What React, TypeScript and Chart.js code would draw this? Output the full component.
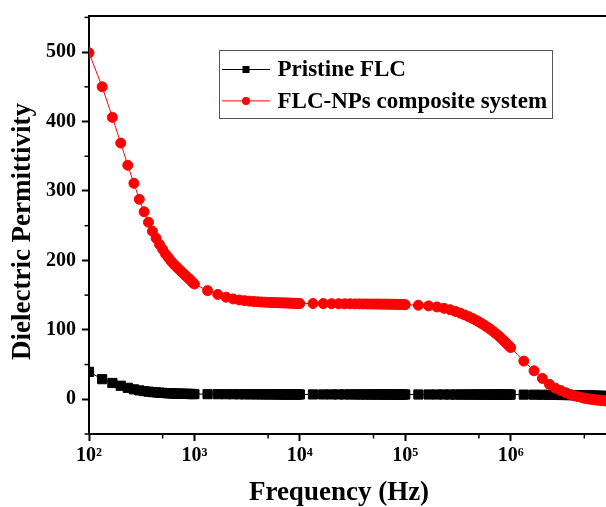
import React, { useEffect, useRef } from "react";
import { Chart, registerables } from "chart.js";

Chart.register(...registerables);

// Frequencies (Hz): linear steps of 1/3 of each decade
const frequencies = [
  100, 133.3, 166.7, 200, 233.3, 266.7, 300, 333.3, 366.7, 400, 433.3, 466.7, 500, 533.3, 566.7, 600, 633.3, 666.7, 700, 733.3, 766.7, 800, 833.3, 866.7, 900, 933.3, 966.7,
  1000, 1333, 1667, 2000, 2333, 2667, 3000, 3333, 3667, 4000, 4333, 4667, 5000, 5333, 5667, 6000, 6333, 6667, 7000, 7333, 7667, 8000, 8333, 8667, 9000, 9333, 9667,
  10000, 13330, 16670, 20000, 23330, 26670, 30000, 33330, 36670, 40000, 43330, 46670, 50000, 53330, 56670, 60000, 63330, 66670, 70000, 73330, 76670, 80000, 83330, 86670, 90000, 93330, 96670,
  100000, 133300, 166700, 200000, 233300, 266700, 300000, 333300, 366700, 400000, 433300, 466700, 500000, 533300, 566700, 600000, 633300, 666700, 700000, 733300, 766700, 800000, 833300, 866700, 900000, 933300, 966700,
  1000000, 1333000, 1667000, 2000000, 2333000, 2667000, 3000000, 3333000, 3667000, 4000000, 4333000, 4667000, 5000000, 5333000, 5667000, 6000000, 6333000, 6667000, 7000000, 7333000, 7667000, 8000000, 8333000, 8667000, 9000000, 9333000, 9667000,
  10000000,
];

const pristineFLC = [
  39.5, 29, 23.5, 19.5, 16.5, 14.3, 12.8, 11.8, 11, 10.4, 9.9, 9.5, 9.2, 8.9, 8.7, 8.5, 8.3, 8.2, 8.1, 8, 7.9, 7.8, 7.75, 7.7, 7.65, 7.6, 7.55,
  7.5, 7.4, 7.35, 7.3, 7.3, 7.25, 7.2, 7.2, 7.2, 7.15, 7.15, 7.1, 7.1, 7.1, 7.1, 7.05, 7.05, 7.05, 7.05, 7, 7, 7, 7, 7, 7, 7, 7,
  7, 7, 7, 7, 7, 7, 7, 7, 6.95, 6.95, 6.95, 6.95, 6.95, 6.95, 6.95, 6.95, 6.9, 6.9, 6.9, 6.9, 6.9, 6.9, 6.9, 6.9, 6.9, 6.9, 6.9,
  6.9, 6.9, 6.9, 6.9, 6.9, 6.85, 6.85, 6.85, 6.85, 6.85, 6.85, 6.85, 6.85, 6.8, 6.8, 6.8, 6.8, 6.8, 6.8, 6.8, 6.8, 6.8, 6.8, 6.8, 6.8, 6.8, 6.8,
  6.8, 6.7, 6.6, 6.5, 6.4, 6.3, 6.2, 6.1, 6, 5.9, 5.8, 5.7, 5.6, 5.5, 5.4, 5.3, 5.2, 5.1, 5, 4.9, 4.8, 4.7, 4.6, 4.5, 4.4, 4.3, 4.2,
  4,
];

const compositeFLC = [
  499, 450, 406, 369, 337, 311, 288, 270, 255, 242, 232, 223, 216, 209, 204, 199, 195, 191.5, 188.5, 185.5, 182.5, 180, 177.5, 175, 173, 170.5, 168,
  166, 156.5, 151, 147, 144.5, 143, 142, 141.3, 140.8, 140.4, 140.1, 139.8, 139.6, 139.4, 139.2, 139.1, 139, 138.9, 138.8, 138.7, 138.6, 138.5, 138.4, 138.3, 138.2, 138.1, 138,
  138, 137.9, 137.8, 137.7, 137.6, 137.5, 137.5, 137.4, 137.4, 137.3, 137.3, 137.2, 137.2, 137.1, 137.1, 137, 137, 137, 136.9, 136.9, 136.8, 136.8, 136.7, 136.7, 136.6, 136.6, 136.5,
  136.3, 135.5, 134.5, 133, 131, 129, 126.5, 124, 121.5, 119, 116.5, 114, 111.5, 109, 106.5, 104, 101.5, 99, 96.5, 94, 91.5, 89, 86.5, 84, 81.5, 79, 77,
  74.5, 55, 41, 30, 21.5, 16, 12.5, 9.5, 7, 5, 3.8, 2.8, 1.5, 0.8, 0.2, -0.3, -0.8, -1.2, -1.5, -1.8, -2.1, -2.4, -2.6, -2.8, -3, -3.1, -3.2,
  -3.3,
];

const seriesNames = ["Pristine FLC", "FLC-NPs composite system"];
const xTickValues = [1e2, 1e3, 1e4, 1e5, 1e6];
const xTickLabels = ["10\u00B2", "10\u00B3", "10\u2074", "10\u2075", "10\u2076"];
const xMinorTicks = [5e2, 5e3, 5e4, 5e5, 5e6];
const yTickValues = [0, 100, 200, 300, 400, 500];
const yMinorTicks = [-50, 50, 150, 250, 350, 450, 550];
const xTitle = "Frequency (Hz)";
const yTitle = "Dielectric Permittivity";

const FONT = '"Liberation Serif", "Times New Roman", serif';

const decorPlugin = {
  id: "decor",
  afterDraw(chart: any) {
    const { ctx, chartArea: ca, scales } = chart;
    const xs = scales.x;
    const ys = scales.y;
    ctx.save();
    ctx.strokeStyle = "#000";
    // top frame line
    ctx.lineWidth = 2;
    ctx.beginPath();
    ctx.moveTo(ca.left - 1, ca.top);
    ctx.lineTo(ca.right, ca.top);
    ctx.stroke();
    // minor ticks
    ctx.lineWidth = 1.5;
    for (const v of xMinorTicks) {
      const px = xs.getPixelForValue(v);
      if (px < ca.left || px > ca.right) continue;
      ctx.beginPath();
      ctx.moveTo(px, ca.bottom);
      ctx.lineTo(px, ca.bottom + 4.5);
      ctx.stroke();
    }
    for (const v of yMinorTicks) {
      const py = ys.getPixelForValue(v);
      if (py < ca.top - 1 || py > ca.bottom + 1) continue;
      ctx.beginPath();
      ctx.moveTo(ca.left, py);
      ctx.lineTo(ca.left - 4.5, py);
      ctx.stroke();
    }
    // axis titles
    ctx.fillStyle = "#000";
    ctx.font = `bold 27px ${FONT}`;
    ctx.textAlign = "center";
    ctx.textBaseline = "alphabetic";
    ctx.fillText(xTitle, ca.left + 250, chart.height - 7);
    ctx.save();
    ctx.translate(29.5, (ca.top + ca.bottom) / 2 + 6.5);
    ctx.rotate(-Math.PI / 2);
    ctx.fillText(yTitle, 0, 0);
    ctx.restore();

    // legend
    const bx = ca.left + 130;
    const by = ca.top + 33.5;
    ctx.font = `bold 23px ${FONT}`;
    const textX = bx + 58.5;
    const tw = Math.max(...seriesNames.map((n) => ctx.measureText(n).width));
    const bw = textX - bx + tw + 5;
    const bh = 68;
    ctx.lineWidth = 1;
    ctx.strokeStyle = "#555";
    ctx.strokeRect(Math.round(bx) + 0.5, Math.round(by) + 0.5, Math.round(bw), bh);
    const rows = [by + 20, by + 51.4];
    const dsets = chart.data.datasets;
    const order = [1, 0]; // pristine first, composite second
    rows.forEach((ry, i) => {
      const ds = dsets[order[i]];
      ctx.strokeStyle = ds.borderColor;
      ctx.lineWidth = 1;
      ctx.beginPath();
      ctx.moveTo(bx + 3, ry);
      ctx.lineTo(bx + 51, ry);
      ctx.stroke();
      ctx.fillStyle = ds.backgroundColor;
      if (ds.pointStyle === "rect") {
        ctx.fillRect(bx + 27 - 3.5, ry - 3.5, 7, 7);
      } else {
        ctx.beginPath();
        ctx.arc(bx + 27, ry, 4, 0, Math.PI * 2);
        ctx.fill();
      }
      ctx.fillStyle = "#000";
      ctx.textAlign = "left";
      ctx.textBaseline = "middle";
      ctx.fillText(seriesNames[order[i] === 1 ? 0 : 1], textX, ry + 1);
    });
    ctx.restore();
  },
};

export default function App() {
  const ref = useRef<HTMLCanvasElement | null>(null);
  useEffect(() => {
    if (!ref.current) return;
    const tickFont = { family: FONT, size: 20, weight: "bold" as const };
    const chart = new Chart(ref.current, {
      type: "scatter",
      data: {
        datasets: [
          {
            label: seriesNames[1],
            data: frequencies.map((f, i) => ({ x: f, y: compositeFLC[i] })),
            showLine: true,
            borderColor: "#ff0000",
            backgroundColor: "#ff0000",
            borderWidth: 1,
            pointStyle: "circle",
            pointRadius: 5,
            pointBorderWidth: 1,
            order: 0,
          },
          {
            label: seriesNames[0],
            data: frequencies.map((f, i) => ({ x: f, y: pristineFLC[i] })),
            showLine: true,
            borderColor: "#000000",
            backgroundColor: "#000000",
            borderWidth: 1,
            pointStyle: "rect",
            pointRadius: 6.5,
            pointBorderWidth: 1,
            order: 1,
          },
        ],
      },
      options: {
        responsive: false,
        animation: false,
        layout: { autoPadding: false, padding: { top: 16, right: 0, left: 0, bottom: 0 } },
        plugins: { legend: { display: false }, tooltip: { enabled: false } },
        scales: {
          x: {
            type: "logarithmic",
            min: 100,
            max: 8.03e6,
            afterBuildTicks: (s: any) => {
              s.ticks = xTickValues.map((v) => ({ value: v }));
            },
            afterFit: (s: any) => {
              s.height = 73;
              s.paddingLeft = 0;
              s.paddingRight = 0;
            },
            ticks: {
              callback: (v: any) => {
                const i = xTickValues.indexOf(Number(v));
                return i >= 0 ? xTickLabels[i] : "";
              },
              font: tickFont,
              color: "#000",
              padding: 3,
              maxRotation: 0,
              autoSkip: false,
            },
            grid: { drawOnChartArea: false, tickLength: 7, tickWidth: 2, tickColor: "#000" },
            border: { color: "#000", width: 2 },
          },
          y: {
            type: "linear",
            min: -50,
            max: 552,
            afterBuildTicks: (s: any) => {
              s.ticks = yTickValues.map((v) => ({ value: v }));
            },
            afterFit: (s: any) => {
              s.width = 89;
              s.paddingTop = 0;
              s.paddingBottom = 0;
            },
            ticks: {
              callback: (v: any) => String(v),
              font: tickFont,
              color: "#000",
              padding: 6,
              autoSkip: false,
            },
            grid: { drawOnChartArea: false, tickLength: 7, tickWidth: 2, tickColor: "#000" },
            border: { color: "#000", width: 2 },
          },
        },
      },
      plugins: [decorPlugin],
    });
    return () => chart.destroy();
  }, []);
  return (
    <div style={{ position: "fixed", left: 0, top: 0, width: 606, height: 507, background: "#fff" }}>
      <canvas ref={ref} width={606} height={507} style={{ display: "block" }} />
    </div>
  );
}
